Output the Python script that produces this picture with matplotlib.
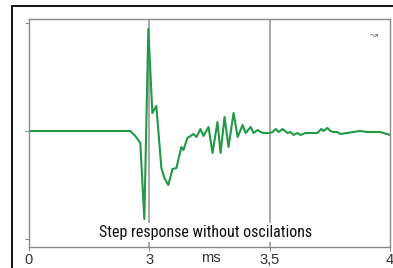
import numpy as np
import matplotlib
matplotlib.use("Agg")
from matplotlib import pyplot as plt
from matplotlib import font_manager
from matplotlib.patches import Rectangle

# step response, time in ms, amplitude in arbitrary units (0 = rest level)
time_ms = [0.0, 2.525, 2.65, 2.775, 2.875, 2.975, 3.0125, 3.029, 3.05, 3.0625,
           3.079, 3.096, 3.1125, 3.133, 3.142, 3.158, 3.171, 3.183, 3.196, 3.2125,
           3.225, 3.246, 3.2625, 3.283, 3.296, 3.3125, 3.329, 3.35, 3.367, 3.3875,
           3.4, 3.421, 3.433, 3.45, 3.4625, 3.475, 3.496, 3.5124, 3.5248, 3.5372,
           3.5537, 3.5744, 3.5868, 3.5992, 3.6157, 3.6281, 3.6488, 3.6983, 3.7149, 3.7231,
           3.7397, 3.7521, 3.7645, 3.781, 3.7934, 3.8223, 3.8471, 3.876, 3.905, 3.9298,
           3.9587, 3.9876, 4.0]
amplitude = [0, 0, -5, -12, -88, 102, 18, 25, -37, -47,
             -54, -38, -37, -16, -19, -7, -5, -3, -6, 2,
             -5, 4, -22, 9, -22, 14, -16, 18, -6, 6,
             -2, 4, -2, 1, -1, -2, -2, -1, 2, -1,
             2, -2, -1, -4, -2, -4, -2, -2, 2, 0,
             3, 0, -1, -1, -3, -2, -1, 0, -1, -1,
             -1, -3, -4]

tick_ms = [0, 3, 3.5, 4]
tick_labels = ['0', '3', '3,5', '4']
marker_ms = [3, 3.5]
caption = 'Step response without oscilations'
unit = 'ms'

# the time axis is stretched: each labelled interval gets the same width
pos = np.arange(len(tick_ms), dtype=float)
def fwd(x):
    return np.interp(x, tick_ms, pos)
def inv(p):
    return np.interp(p, pos, tick_ms)

# narrow face for the caption if one is around
names = {f.name for f in font_manager.fontManager.ttflist}
narrow = None
for cand in ['Liberation Sans Narrow', 'DejaVu Sans Condensed', 'Roboto Condensed', 'Open Sans Condensed']:
    if cand in names:
        narrow = cand
        break
cap_font = dict(family=[narrow or 'DejaVu Sans', 'DejaVu Sans'], fontstretch='condensed')

fig = plt.figure(figsize=(3.93, 2.68), dpi=100)
fig.patches.append(Rectangle((12 / 393, -0.2), 1.2, 0.2 + 262 / 268, transform=fig.transFigure,
                             fill=False, edgecolor='black', linewidth=1.3))
ax = fig.add_axes([29 / 393, 21 / 268, 361 / 393, 228 / 268])
ax.set_xscale('function', functions=(fwd, inv))
ax.set_xlim(0, 4)
ax.set_ylim(-116, 112)

for m in marker_ms:
    ax.axvline(m, color='#9a9a9a', linewidth=1.2, zorder=1)
ax.plot(time_ms, amplitude, color='#1f9a45', linewidth=1.5, zorder=2)

for s in ax.spines.values():
    s.set_color('#8a8a8a')
    s.set_linewidth(1.0)
ax.set_xticks(tick_ms)
ax.set_xticklabels(tick_labels, fontsize=10.5, color='#333333', family='Liberation Sans')
ax.set_yticks([-108, 0, 108])
ax.set_yticklabels([])
ax.tick_params(axis='both', length=3, color='#8a8a8a', pad=1)
ax.set_xticks([], minor=True)

ax.text(fwd(3.25) / 3 - 0.01, 0.063, caption, transform=ax.transAxes, ha='center', va='center',
        fontsize=11.5, color='#111111', zorder=3,
        bbox=dict(facecolor='white', edgecolor='none', pad=1.5), **cap_font)
ax.text(3.255, -0.048, unit, transform=ax.get_xaxis_transform(), ha='center', va='center',
        fontsize=10.5, color='#333333', family='Liberation Sans')
ax.text(0.955, 0.93, '\u219d', transform=ax.transAxes, ha='center', va='center',
        fontsize=7, color='#777777')

fig.savefig('out.png', dpi=100)
